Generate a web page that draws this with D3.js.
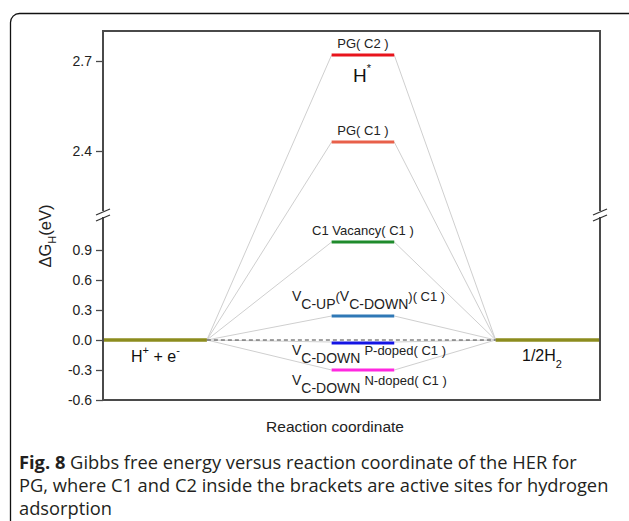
<!DOCTYPE html>
<html><head><meta charset="utf-8">
<script src="https://cdn.jsdelivr.net/npm/d3@7"></script>
<style>
html,body{margin:0;padding:0;background:#fff;}
svg{display:block;}
text{font-family:"Liberation Sans",Arial,sans-serif;}
</style></head>
<body>
<svg id="chart" width="629" height="521"></svg>
<script>
// ---------- data ----------
const levelNames = ["PG( C2 )", "PG( C1 )", "C1 Vacancy( C1 )", "VC-UP(VC-DOWN)(C1)", "VC-DOWN P-doped(C1)", "VC-DOWN N-doped(C1)"];
const levelValues = [2.72, 2.43, 0.98, 0.24, -0.02, -0.30];
const levelColors = ["#e8141c", "#e8604a", "#1f8b2c", "#2f78b6", "#1414e4", "#ff28e0"];
const endStates = ["H+ + e-", "1/2H2"];
const endValues = [0, 0];
const stageX = [[0, 2.09], [4.6, 5.86], [7.9, 10]];
const lowTicks = [-0.6, -0.3, 0.0, 0.3, 0.6, 0.9];
const highTicks = [2.4, 2.7];
const lowDomain = [-0.6, 1.2];
const highDomain = [2.2, 2.8];

// ---------- layout ----------
const svg = d3.select("#chart");
const L = 103, R = 600, T = 31, B = 400, BREAK = 215;

const x = d3.scaleLinear().domain([0, 10]).range([L, R]);
const yLow = d3.scaleLinear().domain(lowDomain).range([B, B - 1.8 * 100]);
const yHigh = d3.scaleLinear().domain(highDomain).range([211, T]);
const y = v => v > 1.6 ? yHigh(v) : yLow(v);

// outer rounded frame
svg.append("rect").attr("x", 10.5).attr("y", 13.5).attr("width", 640).attr("height", 560)
  .attr("rx", 9).attr("fill", "none").attr("stroke", "#111").attr("stroke-width", 1.3);

// connectors
const g = svg.append("g");
const leftEnd = x(stageX[0][1]), rightStart = x(stageX[2][0]);
levelValues.forEach((v, i) => {
  g.append("path")
    .attr("d", `M${leftEnd},${y(endValues[0])}L${x(stageX[1][0])},${y(v)}M${x(stageX[1][1])},${y(v)}L${rightStart},${y(endValues[1])}`)
    .attr("fill", "none").attr("stroke", "#cfcfcf").attr("stroke-width", 1);
});

// end levels
g.append("line").attr("x1", x(stageX[0][0])).attr("x2", x(stageX[0][1]))
  .attr("y1", y(endValues[0])).attr("y2", y(endValues[0]))
  .attr("stroke", "#8c8c1e").attr("stroke-width", 3.5);
g.append("line").attr("x1", x(stageX[2][0])).attr("x2", x(stageX[2][1]))
  .attr("y1", y(endValues[1])).attr("y2", y(endValues[1]))
  .attr("stroke", "#8c8c1e").attr("stroke-width", 3.5);

// middle levels
g.selectAll("line.lvl").data(levelValues).enter().append("line").attr("class", "lvl")
  .attr("x1", x(stageX[1][0])).attr("x2", x(stageX[1][1]))
  .attr("y1", d => y(d) + (d < 0 && d > -0.1 ? 1 : 0)).attr("y2", d => y(d) + (d < 0 && d > -0.1 ? 1 : 0))
  .attr("stroke", (d, i) => levelColors[i]).attr("stroke-width", 3);

// dashed zero line
g.append("line").attr("x1", leftEnd).attr("x2", rightStart)
  .attr("y1", y(0)).attr("y2", y(0))
  .attr("stroke", "#444").attr("stroke-width", 1.1).attr("stroke-dasharray", "4,3");

// plot frame
const frame = svg.append("g").attr("stroke", "#4a4a4a").attr("stroke-width", 2).attr("fill", "none");
frame.append("rect").attr("x", L).attr("y", T).attr("width", R - L).attr("height", B - T);

// axes
const fmt = v => d3.format(".1f")(v).replace("−", "-");
const axLow = svg.append("g").attr("transform", `translate(${L},0)`)
  .call(d3.axisLeft(yLow).tickValues(lowTicks).tickFormat(fmt).tickSize(7).tickPadding(4));
const axHigh = svg.append("g").attr("transform", `translate(${L},0)`)
  .call(d3.axisLeft(yHigh).tickValues(highTicks).tickFormat(fmt).tickSize(7).tickPadding(4));
[axLow, axHigh].forEach(a => {
  a.select(".domain").remove();
  a.attr("font-size", 14).attr("font-family", "Liberation Sans, Arial, sans-serif");
  a.selectAll(".tick line").attr("stroke", "#4a4a4a").attr("stroke-width", 1.3);
  a.selectAll(".tick text").attr("fill", "#222");
});

// axis breaks
[L, R].forEach(bx => {
  const bg = svg.append("g");
  bg.append("rect").attr("x", bx - 3).attr("y", BREAK - 4).attr("width", 6).attr("height", 6).attr("fill", "#fff");
  [-3, 3].forEach(o => {
    bg.append("line").attr("x1", bx - 7).attr("y1", BREAK + o + 3).attr("x2", bx + 7).attr("y2", BREAK + o - 3)
      .attr("stroke", "#333").attr("stroke-width", 1.3);
  });
});

// level labels
const cx = x((stageX[1][0] + stageX[1][1]) / 2);
const lab = svg.append("g").attr("fill", "#222").attr("font-size", 13);
[0, 1, 2].forEach(i => {
  lab.append("text").attr("x", cx).attr("y", y(levelValues[i]) - 7)
    .attr("text-anchor", "middle").text(levelNames[i]);
});
// V_C-UP(V_C-DOWN)(C1)
{
  const t = lab.append("text").attr("x", cx - 71).attr("y", y(levelValues[3]) - 15).attr("font-size", 14);
  t.append("tspan").text("V");
  t.append("tspan").attr("dy", 8).text("C-UP");
  t.append("tspan").attr("dy", -8).attr("font-size", 13).text("(");
  t.append("tspan").text("V");
  t.append("tspan").attr("dy", 8).text("C-DOWN");
  t.append("tspan").attr("dy", -8).attr("font-size", 13).text(")( C1 )");
}
// P-doped
{
  const t = lab.append("text").attr("x", cx - 71).attr("y", y(levelValues[4]) + 13).attr("font-size", 14);
  t.append("tspan").text("V");
  t.append("tspan").attr("dy", 8).text("C-DOWN");
  t.append("tspan").attr("dy", -8).attr("font-size", 13).attr("dx", 4).text("P-doped( C1 )");
}
// N-doped
{
  const t = lab.append("text").attr("x", cx - 71).attr("y", y(levelValues[5]) + 15).attr("font-size", 14);
  t.append("tspan").text("V");
  t.append("tspan").attr("dy", 8).text("C-DOWN");
  t.append("tspan").attr("dy", -8).attr("font-size", 13).attr("dx", 4).text("N-doped( C1 )");
}
// H*
{
  const t = svg.append("text").attr("x", cx - 10).attr("y", y(levelValues[0]) + 27).attr("font-size", 19).attr("fill", "#111");
  t.append("tspan").text("H");
  t.append("tspan").attr("dy", -10).attr("font-size", 11).text("*");
}
// end-state labels
{
  const t = svg.append("text").attr("x", 131).attr("y", y(0) + 22).attr("font-size", 16).attr("fill", "#111");
  t.append("tspan").text("H");
  t.append("tspan").attr("dy", -8).attr("font-size", 11).text("+");
  t.append("tspan").attr("dy", 8).text(" + e");
  t.append("tspan").attr("dy", -8).attr("font-size", 11).text("-");
}
{
  const t = svg.append("text").attr("x", 522).attr("y", y(0) + 21).attr("font-size", 16).attr("fill", "#111");
  t.append("tspan").text("1/2H");
  t.append("tspan").attr("dy", 7).attr("font-size", 11).text("2");
}

// axis titles
{
  const t = svg.append("text").attr("transform", `translate(51,236) rotate(-90)`)
    .attr("text-anchor", "middle").attr("font-size", 16.5).attr("fill", "#222");
  t.append("tspan").text("ΔG");
  t.append("tspan").attr("dy", 5).attr("font-size", 11).text("H");
  t.append("tspan").attr("dy", -5).text("(eV)");
}
svg.append("text").attr("x", 335).attr("y", 432).attr("text-anchor", "middle")
  .attr("font-size", 15.5).attr("fill", "#222").text("Reaction coordinate");

// caption
const cap = svg.append("g").attr("font-size", 18.3).attr("fill", "#231f20");
{
  const t = cap.append("text").attr("x", 19).attr("y", 469).style("font-family", "'Open Sans', 'Noto Sans', sans-serif");
  t.append("tspan").attr("font-weight", "bold").text("Fig. 8");
  t.append("tspan").text("  Gibbs free energy versus reaction coordinate of the HER for");
  cap.append("text").attr("x", 19).attr("y", 492).style("font-family", "'Open Sans', 'Noto Sans', sans-serif")
    .text("PG, where C1 and C2 inside the brackets are active sites for hydrogen");
  cap.append("text").attr("x", 19).attr("y", 515).style("font-family", "'Open Sans', 'Noto Sans', sans-serif")
    .text("adsorption");
}
</script>
</body></html>
